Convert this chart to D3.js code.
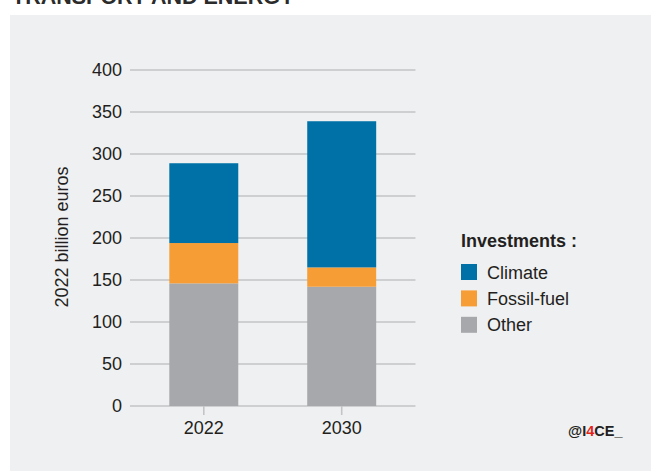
<!DOCTYPE html>
<html>
<head>
<meta charset="utf-8">
<script src="https://cdn.jsdelivr.net/npm/d3@7"></script>
<style>
  html, body { margin: 0; padding: 0; background: #ffffff; }
  svg { display: block; font-family: "Liberation Sans", Arial, Helvetica, sans-serif; }
</style>
</head>
<body>
<svg id="chart" width="651" height="471"></svg>
<script>
// Investments in transport and energy, billion euros (2022 prices)
const years = ["2022", "2030"];
const seriesNames = ["Other", "Fossil-fuel", "Climate"];
const otherValues = [146, 142];
const fossilValues = [48, 23];
const climateValues = [95, 174];
const yTicks = [0, 50, 100, 150, 200, 250, 300, 350, 400];
const legendOrder = ["Climate", "Fossil-fuel", "Other"];

const colors = {
  "Climate": "#0071a7",
  "Fossil-fuel": "#f69d35",
  "Other": "#a7a8ab"
};

const rows = years.map((y, i) => ({
  year: y,
  "Other": otherValues[i],
  "Fossil-fuel": fossilValues[i],
  "Climate": climateValues[i]
}));

const svg = d3.select("#chart");

// heading (sits partly above the visible area)
svg.append("text")
  .attr("x", 12).attr("y", 3.5)
  .attr("font-size", 21.5).attr("font-weight", "bold")
  .attr("fill", "#2b2b2b")
  .text("TRANSPORT AND ENERGY");

// grey panel
svg.append("rect")
  .attr("x", 10).attr("y", 15)
  .attr("width", 641).attr("height", 456)
  .attr("fill", "#eff0f2");

const x = d3.scaleBand().domain(years).range([130, 415.5])
  .paddingInner(0.5).paddingOuter(0.285);
const y = d3.scaleLinear().domain([0, 400]).range([406, 70]);

// horizontal grid
svg.append("g")
  .selectAll("line")
  .data(yTicks)
  .join("line")
  .attr("x1", 130).attr("x2", 415.5)
  .attr("y1", d => y(d)).attr("y2", d => y(d))
  .attr("stroke", "#c3c4c6").attr("stroke-width", 1.6);

// y axis labels
const yAxis = d3.axisLeft(y).tickValues(yTicks).tickSize(0).tickPadding(8);
const gy = svg.append("g").attr("transform", "translate(130,0)").call(yAxis);
gy.select(".domain").remove();
gy.selectAll("text")
  .attr("font-size", 18).attr("fill", "#231f20")
  .attr("font-family", "Liberation Sans, Arial, sans-serif");

// stacked bars
const stack = d3.stack().keys(seriesNames);
const layers = stack(rows);
svg.append("g")
  .selectAll("g")
  .data(layers)
  .join("g")
  .attr("fill", d => colors[d.key])
  .selectAll("rect")
  .data(d => d)
  .join("rect")
  .attr("x", d => x(d.data.year))
  .attr("width", x.bandwidth())
  .attr("y", d => y(d[1]))
  .attr("height", d => y(d[0]) - y(d[1]));

// x axis
const xAxis = d3.axisBottom(x).tickSize(9).tickPadding(6);
const gx = svg.append("g").attr("transform", "translate(0,406)").call(xAxis);
gx.select(".domain").remove();
gx.selectAll(".tick line").attr("stroke", "#c3c4c6").attr("stroke-width", 1.6);
gx.selectAll("text")
  .attr("font-size", 18).attr("fill", "#231f20")
  .attr("font-family", "Liberation Sans, Arial, sans-serif");

// y axis title
svg.append("text")
  .attr("transform", "translate(68,237) rotate(-90)")
  .attr("text-anchor", "middle")
  .attr("font-size", 18).attr("fill", "#231f20")
  .text("2022 billion euros");

// legend
const legend = svg.append("g").attr("transform", "translate(461,0)");
legend.append("text")
  .attr("x", 0).attr("y", 247)
  .attr("font-size", 18).attr("font-weight", "bold").attr("fill", "#231f20")
  .text("Investments :");
const items = legend.selectAll("g.item")
  .data(legendOrder)
  .join("g")
  .attr("class", "item")
  .attr("transform", (d, i) => `translate(0,${264 + i * 26.4})`);
items.append("rect")
  .attr("width", 16).attr("height", 16)
  .attr("fill", d => colors[d]);
items.append("text")
  .attr("x", 26).attr("y", 14.5)
  .attr("font-size", 18).attr("fill", "#231f20")
  .text(d => d);

// credit
const credit = svg.append("text")
  .attr("x", 568).attr("y", 436)
  .attr("font-size", 14.5).attr("font-weight", "bold").attr("fill", "#231f20");
credit.append("tspan").text("@I");
credit.append("tspan").attr("fill", "#e2231a").text("4");
credit.append("tspan").text("CE_");
</script>
</body>
</html>
